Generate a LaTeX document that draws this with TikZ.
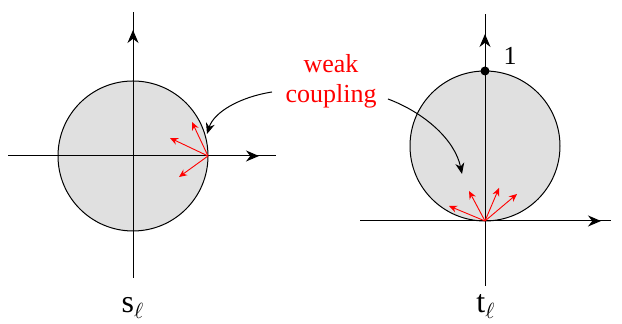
\documentclass[tikz,border=0pt]{standalone}
\usepackage{fontspec}
\setmainfont{Liberation Serif}
\newfontfamily\tms{Liberation Serif}
\usetikzlibrary{arrows.meta}
\begin{document}
\begin{tikzpicture}[x=0.5pt,y=-0.5pt,
  axis/.style={line width=0.5pt},
  axarrow/.style={line width=0.5pt,-{Stealth[length=6.5pt,width=5.5pt]}},
  redarrow/.style={red,line width=0.45pt,-{Stealth[length=4pt,width=3.5pt]}},
  curvearrow/.style={line width=0.5pt,-{Stealth[length=5.5pt,width=4.5pt]}},
  disk/.style={draw=black,fill=black!12,line width=0.5pt},
  lbl/.style={font=\tms\fontsize{16}{17}\selectfont},
  txt/.style={font=\tms\fontsize{13}{15}\selectfont}]
\useasboundingbox (0,0) rectangle (622,324);
% left panel
\coordinate (lc) at (133,156);
\filldraw[disk] (lc) circle (75);
\coordinate (lxs) at (8,156); \coordinate (lxa) at (259,156); \coordinate (lxe) at (276,156);
\coordinate (lys) at (133,278); \coordinate (lya) at (133,30); \coordinate (lye) at (133,12);
\draw[axis] (lxs) -- (lxe);
\draw[axarrow] (lxs) -- (lxa);
\draw[axis] (lys) -- (lye);
\draw[axarrow] (lys) -- (lya);
\coordinate (lp) at (208,156);
\coordinate (l1) at (192,122);
\coordinate (l2) at (170,138);
\coordinate (l3) at (179,177);
\draw[redarrow] (lp) -- (l1);
\draw[redarrow] (lp) -- (l2);
\draw[redarrow] (lp) -- (l3);
\node[lbl,anchor=base] (sl) at (133,313) {s$_{\ell}$};
% right panel
\coordinate (rc) at (485,146);
\filldraw[disk] (rc) circle (75);
\coordinate (rxs) at (360,221); \coordinate (rxa) at (601,221); \coordinate (rxe) at (611,221);
\coordinate (rys) at (485,286); \coordinate (rya) at (485,34); \coordinate (rye) at (485,14);
\draw[axis] (rxs) -- (rxe);
\draw[axarrow] (rxs) -- (rxa);
\draw[axis] (rys) -- (rye);
\draw[axarrow] (rys) -- (rya);
\coordinate (rp) at (485,221);
\coordinate (r1) at (449,206);
\coordinate (r2) at (469,191);
\coordinate (r3) at (499,188);
\coordinate (r4) at (517,194);
\draw[redarrow] (rp) -- (r1);
\draw[redarrow] (rp) -- (r2);
\draw[redarrow] (rp) -- (r3);
\draw[redarrow] (rp) -- (r4);
\fill (485,71) circle (4.5);
\node[txt,anchor=base] (one) at (510,65) {1};
\node[lbl,anchor=base] (tl) at (486,313) {t$_{\ell}$};
% label
\node[txt,red,align=center] (wc) at (331,81) {weak\\coupling};
\draw[curvearrow] (272,92) .. controls (240,97) and (214,112) .. (207,134);
\draw[curvearrow] (388,99) .. controls (425,113) and (455,140) .. (462,174);
\end{tikzpicture}
\end{document}
